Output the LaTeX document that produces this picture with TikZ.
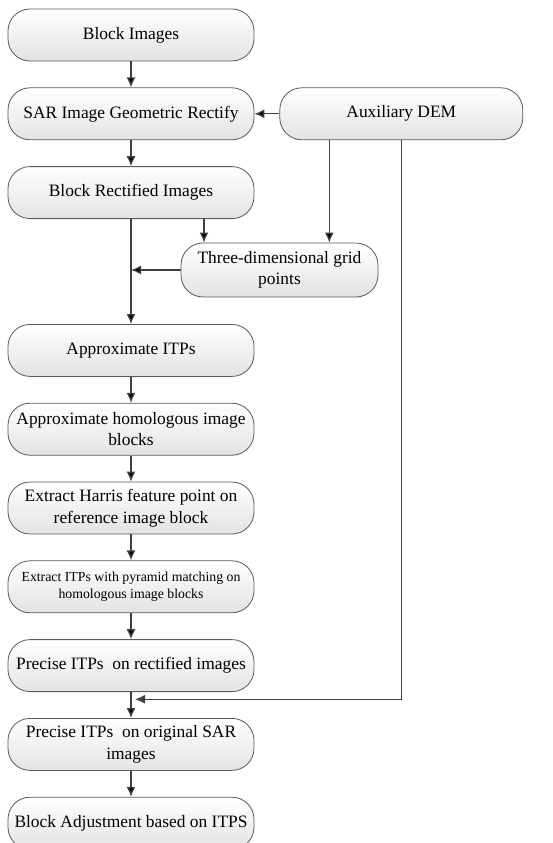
\documentclass[tikz,border=0pt]{standalone}
\usepackage{fontspec}
\setmainfont{Liberation Serif}
\usetikzlibrary{arrows.meta,positioning,calc}

\begin{document}
\begin{tikzpicture}[x=1pt,y=-1pt,>={Latex[length=10pt,width=9pt]}]
        \tikzset{rblock/.style={draw=black!65, line width=0.8pt, rectangle, rounded corners=22pt,
                 top color=white, bottom color=black!11, align=center,
                 minimum width=246pt, minimum height=52pt, inner sep=2pt,
                 font=\fontsize{17.4}{21.5}\selectfont},
        sblock/.style={rblock, font=\fontsize{13.8}{16.7}\selectfont},
        link/.style={draw=black!75, line width=1.3pt},
        }
        \useasboundingbox (0,0) rectangle (552,843);

        \node [rblock] at (131,35) (blk) {Block Images};
        \node [rblock, below=26pt of blk] (sar) {SAR Image Geometric Rectify};
        \node [rblock, right=25pt of sar, minimum width=243pt] (dem) {Auxiliary DEM};
        \node [rblock, below=26pt of sar] (rect) {Block Rectified Images};
        \node [rblock, minimum width=197pt, minimum height=54pt] at (279.5,270) (grid) {Three-dimensional grid\\points};

        \node [rblock, below=105pt of rect] (approx) {Approximate ITPs};
        \node [rblock, below=26pt of approx] (homo) {Approximate homologous image\\blocks};
        \node [rblock, below=26pt of homo] (harris) {Extract Harris feature point on\\reference image block};
        \node [sblock, below=26pt of harris] (pyr) {Extract ITPs with pyramid matching on\\homologous image blocks};
        \node [rblock, below=26pt of pyr] (prec) {Precise ITPs~ on rectified images};
        \node [rblock, below=26pt of prec] (orig) {Precise ITPs~ on original SAR\\images};
        \node [rblock, below=26pt of orig] (adj) {Block Adjustment based on ITPS};

        \coordinate (join) at ($(prec.south)!0.28!(orig.north)+(4pt,0)$);

%%% paths
        \path[link] (blk) edge[->] (sar)
                    (dem) edge[->] (sar)
                    (sar) edge[->] (rect)
                    (rect) edge[->] (approx)
                    (approx) edge[->] (homo)
                    (homo) edge[->] (harris)
                    (harris) edge[->] (pyr)
                    (pyr) edge[->] (prec)
                    (prec) edge[->] (orig)
                    (orig) edge[->] (adj)
                    ([xshift=-72pt]dem.south) edge[->] ([xshift=-72pt]dem.south |- grid.north)
                    ([xshift=73pt]rect.south) edge[->] ([xshift=73pt]rect.south |- grid.north)
                    (grid.west) edge[->] (grid.west -| rect.south)
                    ;
        \draw[link,->] (dem.south) |- (join);
    \end{tikzpicture}
\end{document}
